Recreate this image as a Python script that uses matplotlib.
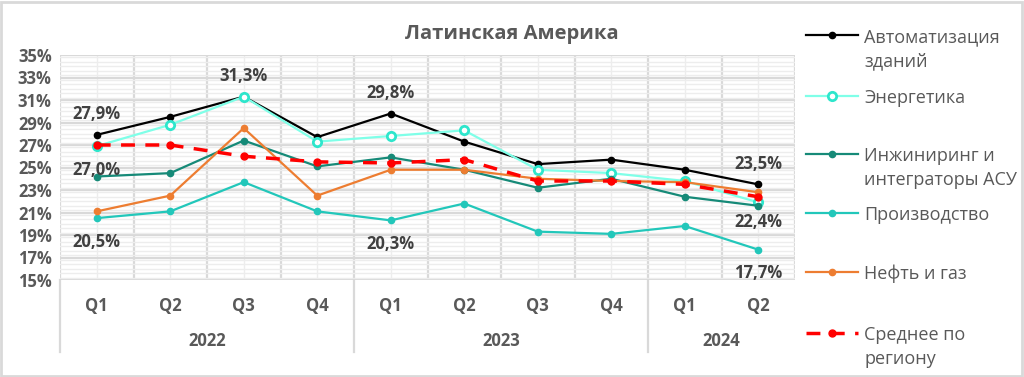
import numpy as np
import matplotlib.pyplot as plt
from matplotlib.lines import Line2D
from matplotlib.patches import Rectangle
from matplotlib.ticker import FixedLocator, MultipleLocator, FuncFormatter

plt.rcParams['font.family'] = ['Open Sans', 'DejaVu Sans']

# данные
quarters = ['Q1', 'Q2', 'Q3', 'Q4', 'Q1', 'Q2', 'Q3', 'Q4', 'Q1', 'Q2']
years = ['2022', '2023', '2024']
year_len = [4, 4, 2]

avtomatizaciya = [27.9, 29.5, 31.3, 27.7, 29.8, 27.3, 25.3, 25.7, 24.8, 23.5]
energetika = [26.9, 28.8, 31.3, 27.3, 27.8, 28.3, 24.8, 24.5, 23.8, 21.9]
inzhiniring = [24.2, 24.5, 27.4, 25.1, 25.9, 24.8, 23.2, 24.0, 22.4, 21.6]
proizvodstvo = [20.5, 21.1, 23.7, 21.1, 20.3, 21.8, 19.3, 19.1, 19.8, 17.7]
neft_gaz = [21.1, 22.5, 28.5, 22.5, 24.8, 24.8, 24.0, 23.8, 23.7, 22.8]
srednee = [27.0, 27.0, 26.0, 25.5, 25.4, 25.7, 23.8, 23.8, 23.5, 22.4]

series = [
    ('Автоматизация\nзданий', avtomatizaciya, '#000000', '-'),
    ('Энергетика', energetika, '#7FFFE8', '-'),
    ('Инжиниринг и\nинтеграторы АСУ', inzhiniring, '#168A78', '-'),
    ('Производство', proizvodstvo, '#22C7BA', '-'),
    ('Нефть и газ', neft_gaz, '#ED7D31', '-'),
    ('Среднее по\nрегиону', srednee, '#FF0000', '--'),
]

fig = plt.figure(figsize=(10.24, 3.77), dpi=100)
W, H = 1024, 377
ax = fig.add_axes([60 / W, 1 - 280 / H, 735 / W, 225 / H])

x = np.arange(len(quarters))
for name, vals, col, ls in series:
    if name == 'Энергетика':
        ax.plot(x, vals, color=col, lw=1.6, marker='o', ms=6, mfc='white',
                mec='#2EE6CC', mew=2, zorder=3)
    elif ls == '--':
        ax.plot(x, vals, color=col, lw=2.5, ls=(0, (4, 3)), marker='o', ms=5,
                zorder=4)
    else:
        ax.plot(x, vals, color=col, lw=1.6, marker='o', ms=4.5, zorder=3)

ax.set_xlim(-0.5, len(quarters) - 0.5)
ax.set_ylim(15, 35)
ax.yaxis.set_major_locator(FixedLocator(np.arange(15, 36, 2)))
ax.yaxis.set_minor_locator(MultipleLocator(0.4))
ax.yaxis.set_major_formatter(FuncFormatter(lambda v, p: f'{v:.0f}%'))
ax.set_xticks(np.arange(-0.5, len(quarters), 1))
ax.set_xticks(x, minor=True)
ax.set_xticklabels([])
ax.grid(which='major', color='#D9D9D9', lw=1.6)
ax.grid(which='minor', color='#EDEDED', lw=1.0)
ax.set_axisbelow(True)
for s in ax.spines.values():
    s.set_visible(False)
ax.tick_params(axis='both', which='both', length=0)
ax.tick_params(axis='y', labelsize=12, labelcolor='#595959', pad=6)
for t in ax.get_yticklabels():
    t.set_fontweight('bold')

# подписи кварталов и лет
tr = ax.get_xaxis_transform()
for i, q in enumerate(quarters):
    ax.text(i, -0.115, q, transform=tr, ha='center', va='center',
            fontsize=12, fontweight='bold', color='#595959')
start = 0
bounds = [-0.5]
for yr, n in zip(years, year_len):
    ax.text(start + (n - 1) / 2, -0.27, yr, transform=tr, ha='center',
            va='center', fontsize=12, fontweight='bold', color='#595959')
    start += n
    bounds.append(start - 0.5)
for b in bounds[:-1]:
    ax.plot([b, b], [0, -0.32], transform=tr, color='#D9D9D9', lw=1.6,
            clip_on=False)

# подписи значений
def lab(i, vals, dy):
    ax.annotate(f'{vals[i]:.1f}%'.replace('.', ','), (i, vals[i]),
                xytext=(0, dy), textcoords='offset points', ha='center',
                va='center', fontsize=12, fontweight='bold', color='#404040')

for i in [0, 2, 4, 9]:
    lab(i, avtomatizaciya, 15)
for i in [0, 9]:
    lab(i, srednee, -18)
for i in [0, 4, 9]:
    lab(i, proizvodstvo, -17)

fig.text(512 / W, 1 - 34 / H, 'Латинская Америка', ha='center', va='center',
         fontsize=14.5, fontweight='bold', color='#595959')

# легенда
leg_y = [35, 96, 154, 213, 272, 333]
for (name, vals, col, ls), yy in zip(series, leg_y):
    fy = 1 - yy / H
    if name == 'Энергетика':
        fig.add_artist(Line2D([806 / W, 858 / W], [fy, fy], color=col, lw=1.6))
        fig.add_artist(Line2D([832 / W], [fy], marker='o', ms=6, mfc='white',
                              mec='#2EE6CC', mew=2))
    elif ls == '--':
        fig.add_artist(Line2D([806 / W, 858 / W], [fy, fy], color=col, lw=2.5,
                              ls=(0, (4, 3))))
        fig.add_artist(Line2D([832 / W], [fy], marker='o', ms=5, color=col))
    else:
        fig.add_artist(Line2D([806 / W, 858 / W], [fy, fy], color=col, lw=1.6))
        fig.add_artist(Line2D([832 / W], [fy], marker='o', ms=4.5, color=col))
    for k, line in enumerate(name.split('\n')):
        fig.text(864 / W, 1 - (yy + 24 * k) / H, line, ha='left',
                 va='center_baseline', fontsize=13, color='#595959')

fig.add_artist(Rectangle((1 / W, 1 / H), 1021 / W, 374 / H, fill=False,
                         edgecolor='#D9D9D9', lw=2, transform=fig.transFigure))

fig.savefig('out.png', dpi=100)
